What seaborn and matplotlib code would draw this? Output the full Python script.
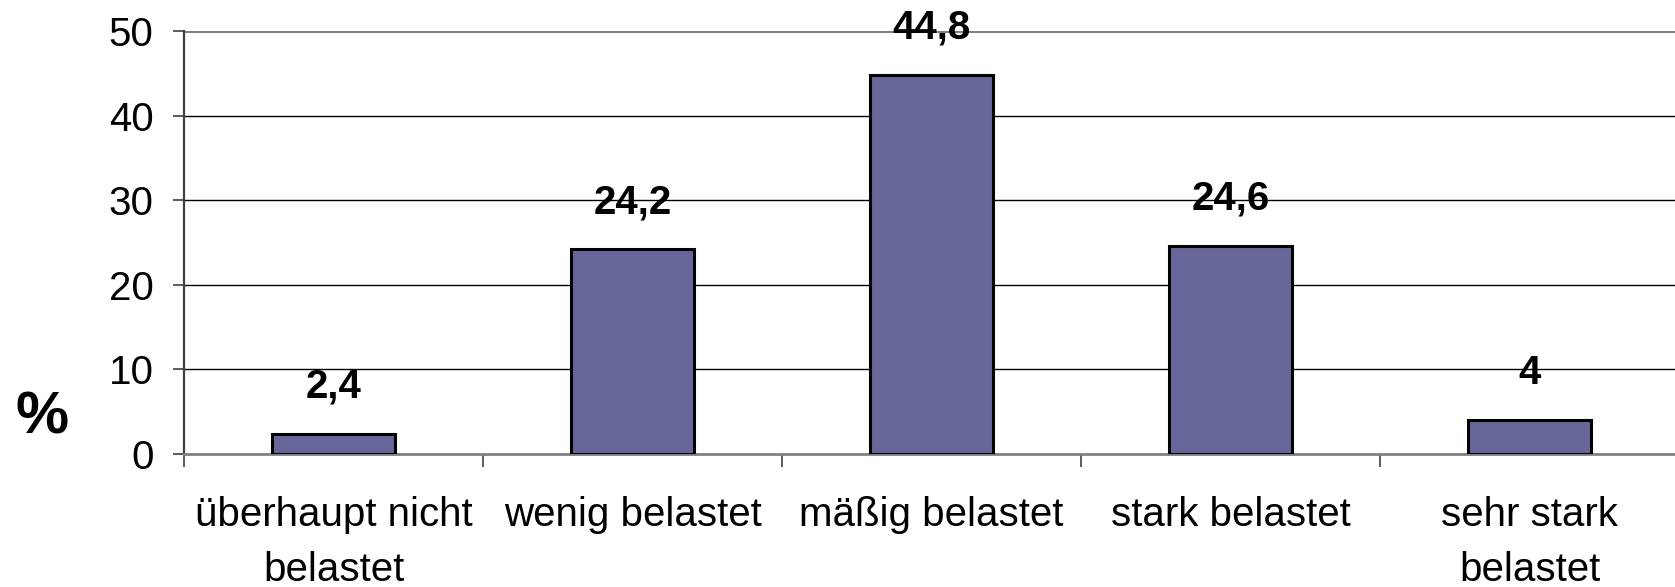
import matplotlib
matplotlib.use("Agg")
import matplotlib.pyplot as plt
import seaborn as sns
import pandas as pd
from matplotlib.ticker import FixedLocator

# Category labels and percentages
categories = ["überhaupt nicht\nbelastet", "wenig belastet", "mäßig belastet",
              "stark belastet", "sehr stark\nbelastet"]
values = [2.4, 24.2, 44.8, 24.6, 4]
value_labels = ["2,4", "24,2", "44,8", "24,6", "4"]
y_ticks = [0, 10, 20, 30, 40, 50]

sns.set_theme(style="white")
plt.rcParams["font.family"] = ["Liberation Sans", "DejaVu Sans"]

df = pd.DataFrame({"Kategorie": categories, "Prozent": values})

fig = plt.figure(figsize=(16.75, 5.87), dpi=100)
ax = fig.add_axes([0.1099, 0.2266, 0.8925, 0.7206])

sns.barplot(data=df, x="Kategorie", y="Prozent", color="#666699", saturation=1,
            width=0.41, edgecolor="black", linewidth=2.2, ax=ax, zorder=3)

ax.set_xlim(-0.5, 4.5)
ax.set_ylim(0, 50)
ax.set_yticks(y_ticks)
ax.set_yticklabels([str(t) for t in y_ticks], fontsize=29)

# horizontal gridlines
for t in y_ticks[1:-1]:
    ax.axhline(t, color="black", lw=1.0, zorder=1)
ax.axhline(50, color="#808080", lw=2.2, zorder=1)

# spines
for s in ["top", "right"]:
    ax.spines[s].set_visible(False)
ax.spines["left"].set_color("#404040")
ax.spines["left"].set_linewidth(1.6)
ax.spines["bottom"].set_color("#808080")
ax.spines["bottom"].set_linewidth(2.0)

# category labels centred, tick marks between categories
ax.set_xlabel("")
ax.set_ylabel("")
ax.tick_params(axis="x", which="major", length=0, pad=30, labelsize=29)
ax.xaxis.set_minor_locator(FixedLocator([-0.5, 0.5, 1.5, 2.5, 3.5, 4.5]))
ax.tick_params(axis="x", which="minor", length=9, width=1.2, color="#404040",
               bottom=True, direction="out")
ax.tick_params(axis="y", which="major", length=8, width=1.2, color="#404040",
               left=True, direction="out", pad=14)
for lbl in ax.get_xticklabels():
    lbl.set_multialignment("center")
    lbl.set_linespacing(1.57)
    lbl.set_color("black")
for lbl in ax.get_yticklabels():
    lbl.set_color("black")

# value labels above bars
for i, (v, txt) in enumerate(zip(values, value_labels)):
    ax.annotate(txt, xy=(i, v), xytext=(0, 34), textcoords="offset points",
                ha="center", va="center", fontsize=29, fontweight="bold",
                color="black", annotation_clip=False, zorder=4)

fig.text(42 / 1675, 1 - 418 / 587, "%", fontsize=43, fontweight="bold",
         ha="center", va="center", color="black")

fig.savefig("out.png", dpi=100, facecolor="white")
